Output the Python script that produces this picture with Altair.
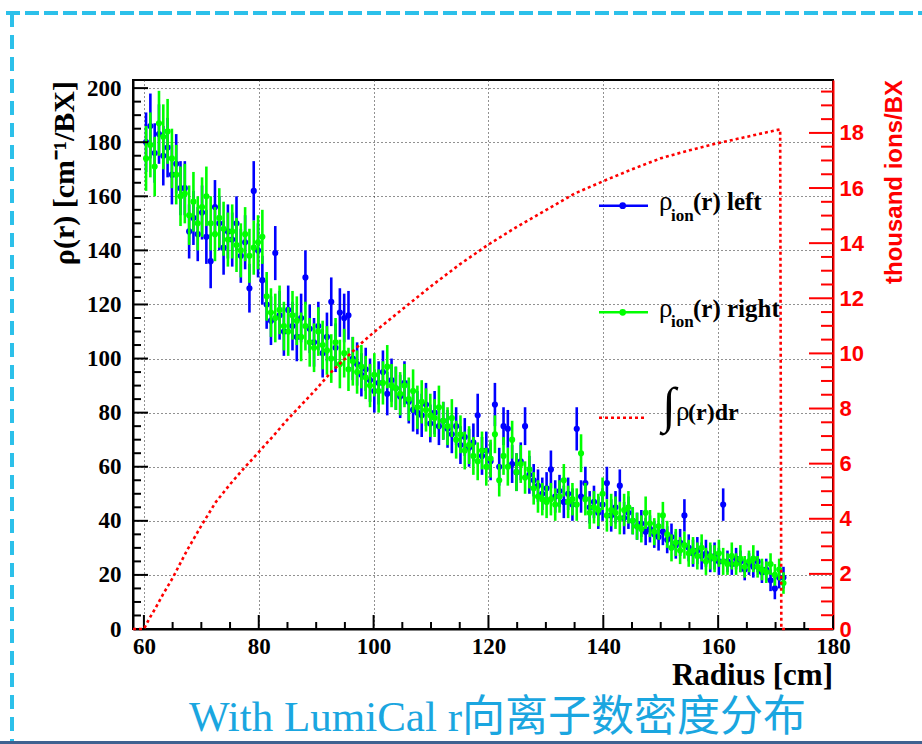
import altair as alt
import pandas as pd

# ---------------- data ----------------
BIN_START = 60.0
BIN_WIDTH = 0.75

rho_left = [
    180, 186, 176, 183, 175, 178, 168, 172, 163, 163,
    147, 152, 146, 154, 145, 136, 156, 150, 141, 147,
    144, 150, 138, 143, 126, 162, 140, 129, 120, 114,
    139, 116, 110, 118, 112, 108, 115, 130, 111, 106,
    112, 102, 108, 121, 104, 117, 115, 116, 100, 98,
    94, 96, 92, 88, 91, 95, 87, 92, 89, 86,
    91, 84, 81, 80, 79, 83, 76, 80, 75, 77,
    74, 72, 75, 68, 71, 67, 69, 79, 64, 66,
    62, 83, 60, 75, 74, 61, 58, 62, 75, 57,
    55, 53, 50, 52, 59, 49, 51, 47, 50, 46,
    74, 49, 54, 45, 47, 43, 46, 54, 42, 45,
    53, 41, 43, 40, 38, 39, 36, 37, 35, 34,
    36, 33, 34, 31, 32, 42, 30, 28, 29, 27,
    28, 26, 27, 25, 46, 25, 24, 26, 25, 22,
    24, 23, 25, 21, 22, 18, 15, 19, 19,
]
err_left = [
    11, 12, 11, 11, 11, 11, 11, 11, 10, 10,
    10, 10, 10, 10, 10, 10, 10, 10, 10, 10,
    10, 10, 10, 10, 9, 11, 10, 9, 9, 9,
    10, 9, 9, 9, 9, 9, 9, 10, 9, 9,
    9, 9, 9, 9, 9, 9, 9, 9, 8, 8,
    8, 8, 8, 8, 8, 8, 8, 8, 8, 8,
    8, 8, 8, 8, 8, 8, 7, 8, 7, 7,
    7, 7, 7, 7, 7, 7, 7, 8, 7, 7,
    7, 8, 7, 7, 7, 7, 7, 7, 7, 7,
    6, 6, 6, 6, 7, 6, 6, 6, 6, 6,
    8, 6, 6, 6, 6, 6, 6, 6, 6, 6,
    6, 6, 6, 5, 5, 5, 5, 5, 5, 5,
    5, 5, 5, 5, 5, 6, 5, 5, 5, 5,
    5, 5, 5, 5, 6, 4, 4, 4, 4, 4,
    4, 4, 4, 4, 4, 4, 4, 4, 4,
]
rho_right = [
    174, 179, 171, 187, 182, 184, 174, 168, 160, 161,
    153, 158, 150, 156, 160, 150, 146, 152, 148, 144,
    147, 142, 140, 146, 138, 141, 143, 145, 123, 117,
    115, 118, 112, 110, 116, 114, 108, 112, 106, 104,
    110, 105, 103, 100, 106, 98, 102, 96, 99, 95,
    97, 93, 90, 94, 88, 91, 97, 90, 89, 87,
    90, 85, 88, 82, 84, 81, 79, 78, 82, 77,
    75, 78, 70, 72, 66, 68, 64, 62, 66, 60,
    63, 72, 55, 64, 60, 70, 58, 61, 56, 59,
    52, 49, 48, 47, 48, 46, 49, 55, 47, 48,
    46, 65, 48, 43, 45, 44, 50, 42, 44, 43,
    41, 44, 45, 40, 38, 37, 43, 39, 36, 38,
    42, 35, 30, 32, 29, 31, 28, 29, 27, 30,
    25, 27, 26, 28, 25, 24, 27, 24, 26, 23,
    25, 26, 23, 22, 21, 24, 20, 22, 17,
]
err_right = [
    12, 12, 11, 12, 12, 12, 11, 11, 11, 11,
    11, 11, 10, 11, 11, 10, 10, 11, 10, 10,
    10, 10, 10, 10, 10, 10, 10, 10, 9, 9,
    9, 9, 9, 9, 9, 9, 9, 9, 9, 9,
    9, 9, 9, 9, 9, 9, 9, 8, 9, 8,
    8, 8, 8, 8, 8, 8, 8, 8, 8, 8,
    8, 8, 8, 8, 8, 8, 8, 7, 8, 7,
    7, 7, 7, 7, 7, 7, 7, 7, 7, 7,
    7, 7, 6, 7, 7, 7, 7, 7, 6, 7,
    6, 6, 6, 6, 6, 6, 6, 6, 6, 6,
    6, 7, 6, 6, 6, 6, 6, 6, 6, 6,
    6, 6, 6, 5, 5, 5, 6, 5, 5, 5,
    5, 5, 5, 5, 5, 5, 5, 5, 5, 5,
    5, 5, 5, 5, 5, 4, 5, 4, 5, 4,
    4, 5, 4, 4, 4, 4, 4, 4, 4,
]

# integral curve (thousand ions / BX)
int_r = [58.1, 60.0, 61.0, 62.0, 63.3, 65.0, 67.5, 70.0, 72.5, 75.0, 77.5, 80.0,
         82.5, 85.0, 87.5, 90.0, 92.5, 95.0, 97.5, 100.0, 105.0, 110.0, 115.0,
         120.0, 125.0, 130.0, 135.0, 140.0, 145.0, 150.0, 155.0, 160.0, 165.0,
         170.8, 171.0, 171.8]
int_v = [0.0, 0.0, 0.4, 0.75, 1.25, 1.85, 2.85, 3.75, 4.6, 5.25, 5.85, 6.42,
         7.0, 7.6, 8.15, 8.7, 9.3, 9.8, 10.3, 10.76, 11.6, 12.44, 13.23,
         13.95, 14.6, 15.2, 15.8, 16.25, 16.68, 17.08, 17.37, 17.63, 17.86,
         18.13, 0.0, 0.0]

x_major = [60, 80, 100, 120, 140, 160, 180]
x_minor = [65, 70, 75, 85, 90, 95, 105, 110, 115, 125, 130, 135,
           145, 150, 155, 165, 170, 175]
yl_major = list(range(0, 201, 20))
yl_minor = [v for v in range(0, 201, 5) if v % 20]
yr_major = list(range(0, 19, 2))
yr_minor = [v / 2 for v in range(1, 40) if v % 4]

title_text = "With LumiCal r向离子数密度分布"

# ---------------- layout ----------------
W, H = 700, 549
PAD_L, PAD_T = 133, 80

centers = [BIN_START + BIN_WIDTH * (i + 0.5) for i in range(len(rho_left))]


def series_df(vals, errs):
    return pd.DataFrame({
        "r": centers,
        "v": vals,
        "lo": [v - e for v, e in zip(vals, errs)],
        "hi": [v + e for v, e in zip(vals, errs)],
        "rlo": [c - BIN_WIDTH / 2 for c in centers],
        "rhi": [c + BIN_WIDTH / 2 for c in centers],
    })


df_l = series_df(rho_left, err_left)
df_r = series_df(rho_right, err_right)
df_int = pd.DataFrame({"r": int_r, "v": int_v, "o": list(range(len(int_r)))})
one = pd.DataFrame({"k": [0]})

XS = alt.Scale(domain=[58.1, 180], nice=False, zero=False)
YL = alt.Scale(domain=[0, 203], nice=False)
YR = alt.Scale(domain=[0, 19.92], nice=False)

SERIF = "Liberation Serif"
SANS = "Liberation Sans"

AX_X = alt.Axis(title=None, values=x_major, tickSize=0, labelFont=SERIF,
                labelFontWeight="bold", labelFontSize=23, labelColor="black",
                labelPadding=6, labelFlush=False, labelOverlap=False,
                domainColor="black", domainWidth=2, grid=True,
                gridColor="#222222", gridDash=[1, 3], gridWidth=1)
AX_YL = alt.Axis(title=None, orient="left", values=yl_major, tickSize=0,
                 labelFont=SERIF, labelFontWeight="bold", labelFontSize=23,
                 labelColor="black", labelPadding=12, labelOverlap=False,
                 domainColor="black", domainWidth=2, grid=True,
                 gridColor="#222222", gridDash=[1, 3], gridWidth=1)
AX_YR = alt.Axis(title=None, orient="right", values=yr_major, tickSize=0,
                 labelFont=SANS, labelFontWeight="bold", labelFontSize=22,
                 labelColor="red", labelPadding=6, labelOverlap=False,
                 domainColor="red", domainWidth=2, grid=False)


def X(f):
    return alt.X(f"{f}:Q", scale=XS, axis=AX_X)


def YLf(f):
    return alt.Y(f"{f}:Q", scale=YL, axis=AX_YL)


def YRf(f):
    return alt.Y(f"{f}:Q", scale=YR, axis=AX_YR)


def series_layers(df, color):
    bars = alt.Chart(df).mark_rule(color=color, strokeWidth=2.6, clip=True).encode(
        x=X("r"), y=YLf("lo"), y2="hi:Q")
    xbars = alt.Chart(df).mark_rule(color=color, strokeWidth=2.6, clip=True).encode(
        x=X("rlo"), x2="rhi:Q", y=YLf("v"))
    pts = alt.Chart(df).mark_circle(color=color, size=38, opacity=1, clip=True).encode(
        x=X("r"), y=YLf("v"))
    return [bars, xbars, pts]


def vtext(text, x, y, **kw):
    return alt.Chart(one).mark_text(text=text, **kw).encode(
        x=alt.value(x), y=alt.value(y))


def hrule(x1, x2, y, **kw):
    return alt.Chart(one).mark_rule(**kw).encode(
        x=alt.value(x1), x2=alt.value(x2), y=alt.value(y))


# ticks (drawn inwards like ROOT)
xt_major = alt.Chart(pd.DataFrame({"t": x_major})).mark_rule(color="black", strokeWidth=2).encode(
    x=X("t"), y=alt.value(H), y2=alt.value(H - 14))
xt_minor = alt.Chart(pd.DataFrame({"t": x_minor})).mark_rule(color="black", strokeWidth=2).encode(
    x=X("t"), y=alt.value(H), y2=alt.value(H - 7))
ylt_major = alt.Chart(pd.DataFrame({"t": yl_major})).mark_rule(color="black", strokeWidth=2).encode(
    y=YLf("t"), x=alt.value(0), x2=alt.value(15))
ylt_minor = alt.Chart(pd.DataFrame({"t": yl_minor})).mark_rule(color="black", strokeWidth=2).encode(
    y=YLf("t"), x=alt.value(0), x2=alt.value(8))
yrt_major = alt.Chart(pd.DataFrame({"t": yr_major})).mark_rule(color="red", strokeWidth=2).encode(
    y=YRf("t"), x=alt.value(W), x2=alt.value(W - 24))
yrt_minor = alt.Chart(pd.DataFrame({"t": yr_minor})).mark_rule(color="red", strokeWidth=2).encode(
    y=YRf("t"), x=alt.value(W), x2=alt.value(W - 12))

integral = alt.Chart(df_int).mark_line(color="red", strokeWidth=2.6, strokeDash=[3, 3]).encode(
    x=X("r"), y=YRf("v"), order="o:Q")

CYAN = "#2cc0ea"
decor = [
    # page border and caption
    hrule(-127, 789, -67, color=CYAN, strokeWidth=4, strokeDash=[14, 5]),
    alt.Chart(one).mark_rule(color=CYAN, strokeWidth=4, strokeDash=[14, 8]).encode(
        x=alt.value(-121), y=alt.value(-67), y2=alt.value(664)),
    alt.Chart(one).mark_rect(color="#3f6190").encode(
        x=alt.value(-133), x2=alt.value(789), y=alt.value(661), y2=alt.value(664)),
    vtext(title_text, 56, 651, font=f"{SERIF}, Noto Sans CJK SC", fontSize=43,
          color="#1aa6e0", align="left", baseline="alphabetic"),
    # axis titles
    vtext("ρ(r) [cm⁻¹/BX]", -68, 1, font=SERIF, fontWeight="bold", fontSize=30,
          angle=270, align="right", baseline="middle", color="black"),
    vtext("Radius [cm]", 700, 605, font=SERIF, fontWeight="bold", fontSize=31,
          align="right", baseline="alphabetic", color="black"),
    vtext("thousand ions/BX", 762, 0, font=SANS, fontWeight="bold", fontSize=24,
          angle=270, align="right", baseline="middle", color="red"),
    # legend
    hrule(466, 515, 125.7, color="blue", strokeWidth=2.6),
    alt.Chart(one).mark_circle(color="blue", size=45, opacity=1).encode(
        x=alt.value(489.7), y=alt.value(125.7)),
    vtext("ρ", 526, 130, font=SERIF, fontSize=27, align="left", baseline="alphabetic", color="black"),
    vtext("ion", 538, 141, font=SERIF, fontWeight="bold", fontSize=17, align="left",
          baseline="alphabetic", color="black"),
    vtext("(r) left", 560, 130, font=SERIF, fontWeight="bold", fontSize=25, align="left",
          baseline="alphabetic", color="black"),
    hrule(466, 515, 232.3, color="#00ff00", strokeWidth=2.6),
    alt.Chart(one).mark_circle(color="#00ff00", size=45, opacity=1).encode(
        x=alt.value(489.7), y=alt.value(232.3)),
    vtext("ρ", 526, 236.7, font=SERIF, fontSize=27, align="left", baseline="alphabetic", color="black"),
    vtext("ion", 538, 247, font=SERIF, fontWeight="bold", fontSize=17, align="left",
          baseline="alphabetic", color="black"),
    vtext("(r) right", 560, 236.7, font=SERIF, fontWeight="bold", fontSize=25, align="left",
          baseline="alphabetic", color="black"),
    hrule(466, 512, 337.7, color="red", strokeWidth=2.6, strokeDash=[3, 3]),
    vtext("∫", 529, 342, font=SERIF, fontSize=50, align="left", baseline="alphabetic", color="black"),
    vtext("ρ", 543, 340, font=SERIF, fontSize=27, align="left", baseline="alphabetic", color="black"),
    vtext("(r)dr", 555, 340, font=SERIF, fontWeight="bold", fontSize=24, align="left",
          baseline="alphabetic", color="black"),
]

left = alt.layer(
    *series_layers(df_l, "blue"),
    *series_layers(df_r, "#00ff00"),
    xt_major, xt_minor, ylt_major, ylt_minor,
    *decor,
)
right = alt.layer(integral, yrt_major, yrt_minor)

chart = alt.layer(left, right).resolve_scale(y="independent").properties(
    width=W, height=H,
    autosize=alt.AutoSizeParams(type="none"),
    padding={"left": PAD_L, "top": PAD_T, "right": 922 - PAD_L - W, "bottom": 744 - PAD_T - H},
).configure_view(stroke="black", strokeWidth=2)

chart.save("out.html", embed_options={"renderer": "svg", "actions": False})
